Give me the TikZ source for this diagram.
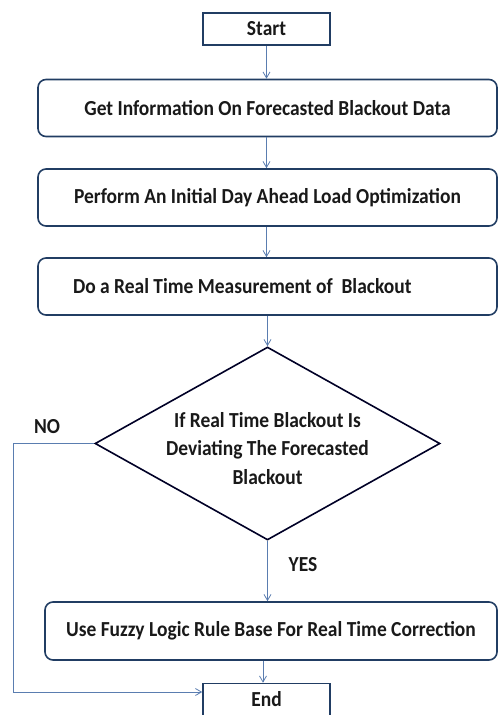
\documentclass[tikz,border=0pt]{standalone}
\usepackage{fontspec}
\setmainfont{Carlito}[FakeStretch=0.91]
\usepackage{tikz}
\usetikzlibrary{arrows.meta,shapes.geometric,calc,positioning}
\definecolor{boxline}{HTML}{213D63}
\definecolor{flowline}{HTML}{5A7DB0}

\begin{document}
\begin{tikzpicture}[x=1pt,y=-1pt,
  txt/.style={font=\bfseries\fontsize{21.4}{28.5}\selectfont,text=black!90},
  stepbox/.style={txt,draw=boxline,line width=1.6pt,rounded corners=8pt,minimum width=459pt,minimum height=57pt,inner sep=0pt},
  endbox/.style={txt,draw=boxline,line width=1.6pt,minimum width=127pt,minimum height=32pt,inner sep=0pt},
  decide/.style={diamond,draw=black!85!blue,line width=1.6pt,minimum width=345pt,minimum height=193pt,aspect=1.79,inner sep=0pt},
  flow/.style={draw=flowline,line width=0.8pt,-{Straight Barb[length=6pt,width=7pt]}}]
\useasboundingbox (0,0) rectangle (498,715);
\node[endbox] (start) at (266.5,29) {Start};
\node[stepbox] (info) at (267.5,108) {Get Information On Forecasted Blackout Data};
\node[stepbox] (optim) at (267.5,197.5) {Perform An Initial Day Ahead Load Optimization};
\node[stepbox,text width=389pt,inner xsep=35pt,align=flush left] (measure) at (267.5,286.5) {Do a Real Time Measurement of~ Blackout};
\node[decide,label={[txt,align=center,yshift=-5pt]center:If Real Time Blackout Is\\Deviating The Forecasted\\Blackout}] (check) at (267.5,443.5) {};
\node[stepbox,minimum width=452pt,minimum height=58pt] (fuzzy) at (271,631) {Use Fuzzy Logic Rule Base For Real Time Correction};
\node[endbox] (end) at (266.5,699.5) {End};
\node[txt] (no) at (47,427) {NO};
\node[txt] (yes) at (303,565) {YES};
\coordinate (noturn) at (13,692);
\coordinate (lastx) at (263,0);
\draw[flow] (start.south) -- (start.south |- info.north);
\draw[flow] (info.south -| start) -- (start |- optim.north);
\draw[flow] (optim.south -| start) -- (start |- measure.north);
\draw[flow] (measure.south -| check) -- (check.north);
\draw[flow] (check.south) -- (check.south |- fuzzy.north);
\draw[flow] (fuzzy.south -| lastx) -- (lastx |- end.north);
\draw[flow] (check.west) -- (check.west -| noturn) -- (noturn) -- (noturn -| end.west);
\end{tikzpicture}
\end{document}
